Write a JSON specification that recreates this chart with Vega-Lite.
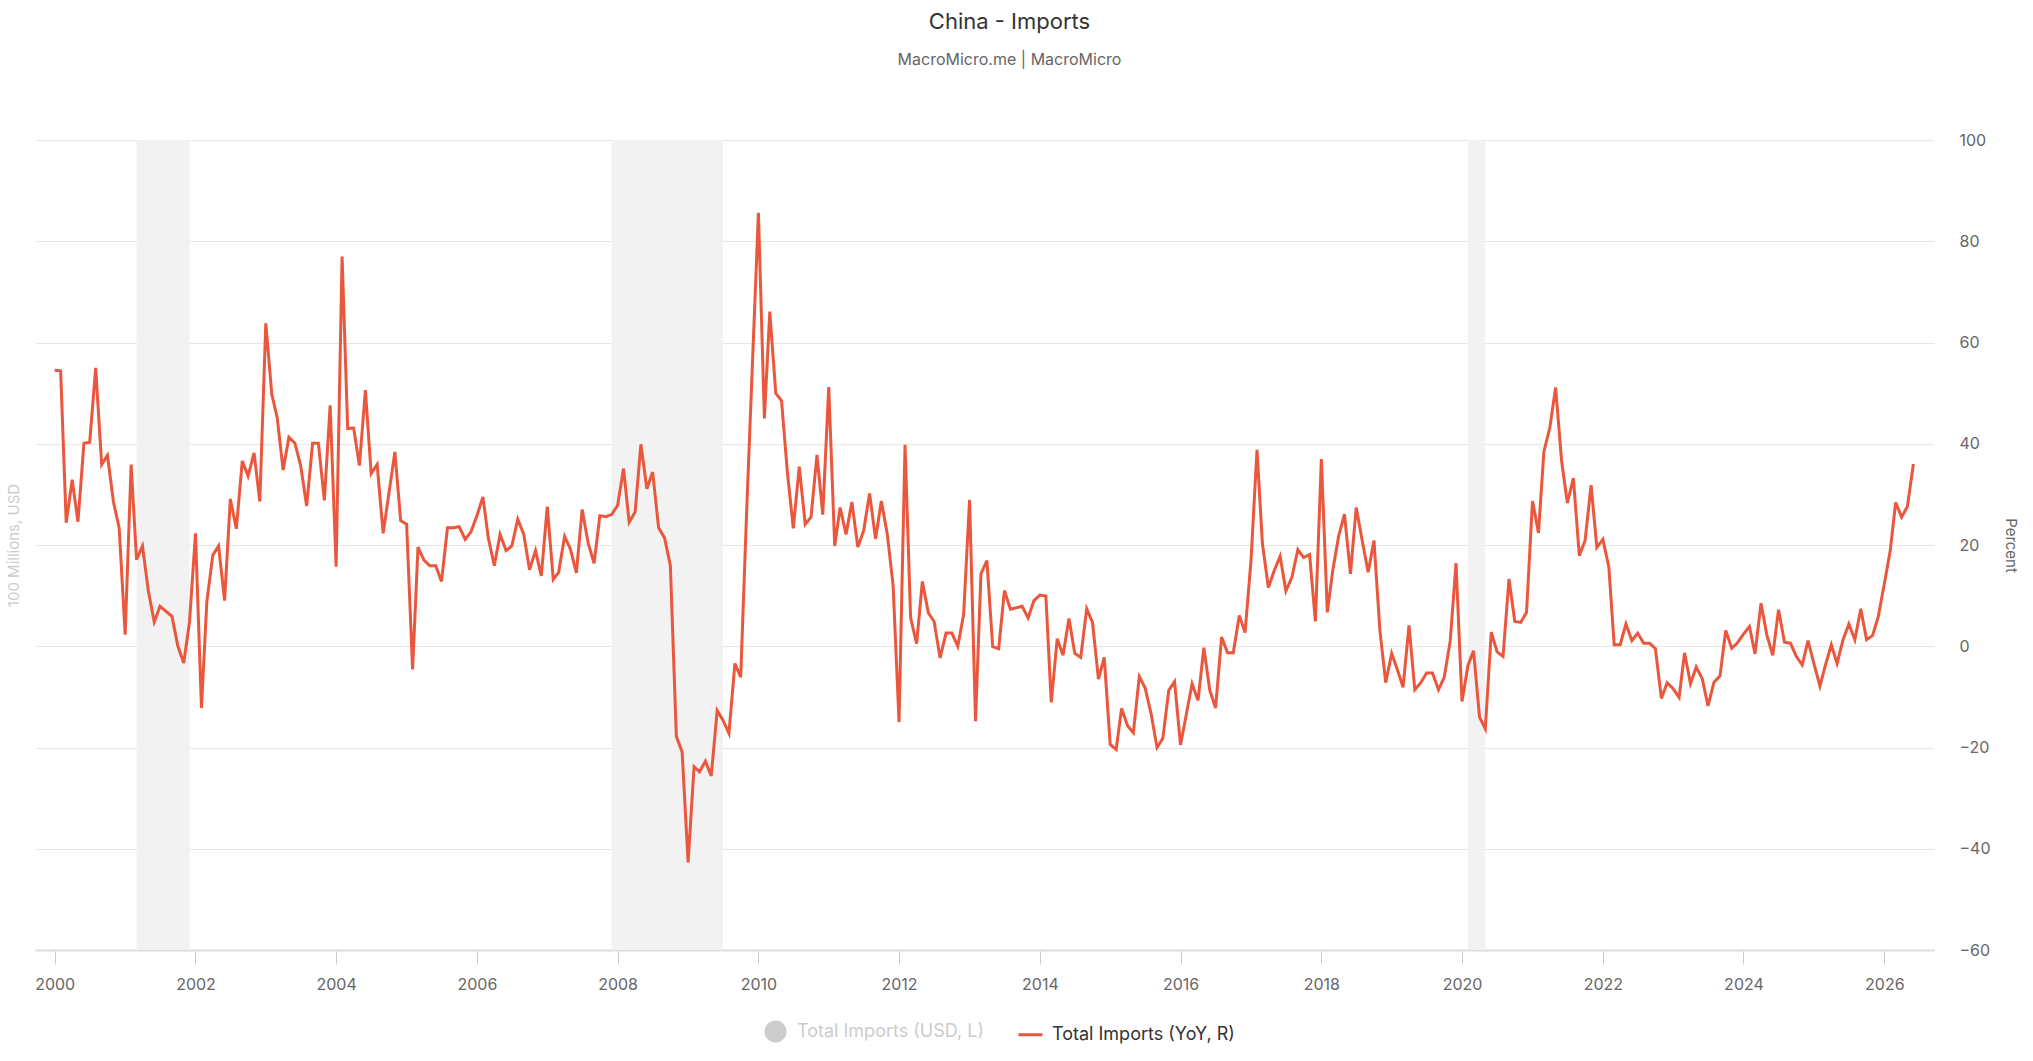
{
  "$schema": "https://vega.github.io/schema/vega-lite/v6.json",
  "width": 1899,
  "height": 810,
  "autosize": {"type": "none"},
  "padding": {"left": 35, "top": 140, "right": 99, "bottom": 111},
  "title": {
    "text": "China - Imports",
    "subtitle": "MacroMicro.me | MacroMicro",
    "fontSize": 22,
    "fontWeight": "normal",
    "color": "#333333",
    "subtitleFontSize": 16,
    "subtitleColor": "#666666",
    "anchor": "middle",
    "dx": 25,
    "offset": 63,
    "subtitlePadding": 18
  },
  "datasets": {
    "recessions": [
      {"start": "2001-03-01", "end": "2001-12-01"},
      {"start": "2007-12-01", "end": "2009-07-01"},
      {"start": "2020-02-01", "end": "2020-05-01"}
    ],
    "imports": [
      {"date": "2000-01-01", "yoy": 54.5}, {"date": "2000-02-01", "yoy": 54.4}, {"date": "2000-03-01", "yoy": 24.4}, {"date": "2000-04-01", "yoy": 32.9},
      {"date": "2000-05-01", "yoy": 24.6}, {"date": "2000-06-01", "yoy": 40.1}, {"date": "2000-07-01", "yoy": 40.3}, {"date": "2000-08-01", "yoy": 55.0},
      {"date": "2000-09-01", "yoy": 35.9}, {"date": "2000-10-01", "yoy": 37.7}, {"date": "2000-11-01", "yoy": 28.6}, {"date": "2000-12-01", "yoy": 23.3},
      {"date": "2001-01-01", "yoy": 2.3}, {"date": "2001-02-01", "yoy": 35.9}, {"date": "2001-03-01", "yoy": 17.1}, {"date": "2001-04-01", "yoy": 19.8},
      {"date": "2001-05-01", "yoy": 11.0}, {"date": "2001-06-01", "yoy": 4.8}, {"date": "2001-07-01", "yoy": 7.9}, {"date": "2001-08-01", "yoy": 6.9},
      {"date": "2001-09-01", "yoy": 5.9}, {"date": "2001-10-01", "yoy": 0.1}, {"date": "2001-11-01", "yoy": -3.3}, {"date": "2001-12-01", "yoy": 4.8},
      {"date": "2002-01-01", "yoy": 22.3}, {"date": "2002-02-01", "yoy": -12.2}, {"date": "2002-03-01", "yoy": 8.8}, {"date": "2002-04-01", "yoy": 18.0},
      {"date": "2002-05-01", "yoy": 19.8}, {"date": "2002-06-01", "yoy": 9.0}, {"date": "2002-07-01", "yoy": 29.1}, {"date": "2002-08-01", "yoy": 23.2},
      {"date": "2002-09-01", "yoy": 36.6}, {"date": "2002-10-01", "yoy": 33.6}, {"date": "2002-11-01", "yoy": 38.2}, {"date": "2002-12-01", "yoy": 28.6},
      {"date": "2003-01-01", "yoy": 63.8}, {"date": "2003-02-01", "yoy": 49.8}, {"date": "2003-03-01", "yoy": 45.2}, {"date": "2003-04-01", "yoy": 34.8},
      {"date": "2003-05-01", "yoy": 41.3}, {"date": "2003-06-01", "yoy": 40.1}, {"date": "2003-07-01", "yoy": 35.7}, {"date": "2003-08-01", "yoy": 27.7},
      {"date": "2003-09-01", "yoy": 40.1}, {"date": "2003-10-01", "yoy": 40.1}, {"date": "2003-11-01", "yoy": 28.8}, {"date": "2003-12-01", "yoy": 47.6},
      {"date": "2004-01-01", "yoy": 15.7}, {"date": "2004-02-01", "yoy": 77.0}, {"date": "2004-03-01", "yoy": 43.0}, {"date": "2004-04-01", "yoy": 43.1},
      {"date": "2004-05-01", "yoy": 35.7}, {"date": "2004-06-01", "yoy": 50.6}, {"date": "2004-07-01", "yoy": 34.1}, {"date": "2004-08-01", "yoy": 35.9},
      {"date": "2004-09-01", "yoy": 22.3}, {"date": "2004-10-01", "yoy": 30.2}, {"date": "2004-11-01", "yoy": 38.4}, {"date": "2004-12-01", "yoy": 24.8},
      {"date": "2005-01-01", "yoy": 24.1}, {"date": "2005-02-01", "yoy": -4.6}, {"date": "2005-03-01", "yoy": 19.6}, {"date": "2005-04-01", "yoy": 17.0},
      {"date": "2005-05-01", "yoy": 15.9}, {"date": "2005-06-01", "yoy": 15.9}, {"date": "2005-07-01", "yoy": 12.8}, {"date": "2005-08-01", "yoy": 23.4},
      {"date": "2005-09-01", "yoy": 23.4}, {"date": "2005-10-01", "yoy": 23.6}, {"date": "2005-11-01", "yoy": 21.1}, {"date": "2005-12-01", "yoy": 22.6},
      {"date": "2006-01-01", "yoy": 25.8}, {"date": "2006-02-01", "yoy": 29.5}, {"date": "2006-03-01", "yoy": 21.4}, {"date": "2006-04-01", "yoy": 15.9},
      {"date": "2006-05-01", "yoy": 22.1}, {"date": "2006-06-01", "yoy": 18.9}, {"date": "2006-07-01", "yoy": 19.8}, {"date": "2006-08-01", "yoy": 25.1},
      {"date": "2006-09-01", "yoy": 22.1}, {"date": "2006-10-01", "yoy": 15.1}, {"date": "2006-11-01", "yoy": 18.9}, {"date": "2006-12-01", "yoy": 13.9},
      {"date": "2007-01-01", "yoy": 27.6}, {"date": "2007-02-01", "yoy": 13.2}, {"date": "2007-03-01", "yoy": 14.6}, {"date": "2007-04-01", "yoy": 21.7},
      {"date": "2007-05-01", "yoy": 19.2}, {"date": "2007-06-01", "yoy": 14.5}, {"date": "2007-07-01", "yoy": 27.0}, {"date": "2007-08-01", "yoy": 20.4},
      {"date": "2007-09-01", "yoy": 16.4}, {"date": "2007-10-01", "yoy": 25.8}, {"date": "2007-11-01", "yoy": 25.6}, {"date": "2007-12-01", "yoy": 26.0},
      {"date": "2008-01-01", "yoy": 27.8}, {"date": "2008-02-01", "yoy": 35.1}, {"date": "2008-03-01", "yoy": 24.5}, {"date": "2008-04-01", "yoy": 26.5},
      {"date": "2008-05-01", "yoy": 39.9}, {"date": "2008-06-01", "yoy": 31.1}, {"date": "2008-07-01", "yoy": 34.4}, {"date": "2008-08-01", "yoy": 23.4},
      {"date": "2008-09-01", "yoy": 21.4}, {"date": "2008-10-01", "yoy": 15.9}, {"date": "2008-11-01", "yoy": -17.8}, {"date": "2008-12-01", "yoy": -20.9},
      {"date": "2009-01-01", "yoy": -42.7}, {"date": "2009-02-01", "yoy": -23.8}, {"date": "2009-03-01", "yoy": -24.8}, {"date": "2009-04-01", "yoy": -22.7},
      {"date": "2009-05-01", "yoy": -25.6}, {"date": "2009-06-01", "yoy": -12.7}, {"date": "2009-07-01", "yoy": -14.6}, {"date": "2009-08-01", "yoy": -17.2},
      {"date": "2009-09-01", "yoy": -3.4}, {"date": "2009-10-01", "yoy": -6.1}, {"date": "2009-11-01", "yoy": 26.7}, {"date": "2009-12-01", "yoy": 55.9},
      {"date": "2010-01-01", "yoy": 85.6}, {"date": "2010-02-01", "yoy": 45.0}, {"date": "2010-03-01", "yoy": 66.1}, {"date": "2010-04-01", "yoy": 50.0},
      {"date": "2010-05-01", "yoy": 48.5}, {"date": "2010-06-01", "yoy": 34.1}, {"date": "2010-07-01", "yoy": 23.3}, {"date": "2010-08-01", "yoy": 35.5},
      {"date": "2010-09-01", "yoy": 24.1}, {"date": "2010-10-01", "yoy": 25.5}, {"date": "2010-11-01", "yoy": 37.8}, {"date": "2010-12-01", "yoy": 26.0},
      {"date": "2011-01-01", "yoy": 51.2}, {"date": "2011-02-01", "yoy": 19.8}, {"date": "2011-03-01", "yoy": 27.4}, {"date": "2011-04-01", "yoy": 22.1},
      {"date": "2011-05-01", "yoy": 28.5}, {"date": "2011-06-01", "yoy": 19.6}, {"date": "2011-07-01", "yoy": 22.8}, {"date": "2011-08-01", "yoy": 30.2},
      {"date": "2011-09-01", "yoy": 21.2}, {"date": "2011-10-01", "yoy": 28.7}, {"date": "2011-11-01", "yoy": 22.1}, {"date": "2011-12-01", "yoy": 12.1},
      {"date": "2012-01-01", "yoy": -15.0}, {"date": "2012-02-01", "yoy": 39.8}, {"date": "2012-03-01", "yoy": 5.6}, {"date": "2012-04-01", "yoy": 0.5},
      {"date": "2012-05-01", "yoy": 12.8}, {"date": "2012-06-01", "yoy": 6.6}, {"date": "2012-07-01", "yoy": 4.9}, {"date": "2012-08-01", "yoy": -2.3},
      {"date": "2012-09-01", "yoy": 2.6}, {"date": "2012-10-01", "yoy": 2.6}, {"date": "2012-11-01", "yoy": 0.0}, {"date": "2012-12-01", "yoy": 6.2},
      {"date": "2013-01-01", "yoy": 28.9}, {"date": "2013-02-01", "yoy": -14.8}, {"date": "2013-03-01", "yoy": 14.3}, {"date": "2013-04-01", "yoy": 16.9},
      {"date": "2013-05-01", "yoy": -0.1}, {"date": "2013-06-01", "yoy": -0.5}, {"date": "2013-07-01", "yoy": 11.0}, {"date": "2013-08-01", "yoy": 7.3},
      {"date": "2013-09-01", "yoy": 7.6}, {"date": "2013-10-01", "yoy": 7.9}, {"date": "2013-11-01", "yoy": 5.6}, {"date": "2013-12-01", "yoy": 9.0},
      {"date": "2014-01-01", "yoy": 10.1}, {"date": "2014-02-01", "yoy": 9.9}, {"date": "2014-03-01", "yoy": -11.1}, {"date": "2014-04-01", "yoy": 1.5},
      {"date": "2014-05-01", "yoy": -1.8}, {"date": "2014-06-01", "yoy": 5.5}, {"date": "2014-07-01", "yoy": -1.4}, {"date": "2014-08-01", "yoy": -2.2},
      {"date": "2014-09-01", "yoy": 7.4}, {"date": "2014-10-01", "yoy": 4.7}, {"date": "2014-11-01", "yoy": -6.5}, {"date": "2014-12-01", "yoy": -2.2},
      {"date": "2015-01-01", "yoy": -19.4}, {"date": "2015-02-01", "yoy": -20.4}, {"date": "2015-03-01", "yoy": -12.3}, {"date": "2015-04-01", "yoy": -15.7},
      {"date": "2015-05-01", "yoy": -17.1}, {"date": "2015-06-01", "yoy": -6.0}, {"date": "2015-07-01", "yoy": -8.2}, {"date": "2015-08-01", "yoy": -13.3},
      {"date": "2015-09-01", "yoy": -20.0}, {"date": "2015-10-01", "yoy": -18.2}, {"date": "2015-11-01", "yoy": -8.7}, {"date": "2015-12-01", "yoy": -7.0},
      {"date": "2016-01-01", "yoy": -19.5}, {"date": "2016-02-01", "yoy": -13.3}, {"date": "2016-03-01", "yoy": -7.4}, {"date": "2016-04-01", "yoy": -10.7},
      {"date": "2016-05-01", "yoy": -0.3}, {"date": "2016-06-01", "yoy": -8.7}, {"date": "2016-07-01", "yoy": -12.2}, {"date": "2016-08-01", "yoy": 1.8},
      {"date": "2016-09-01", "yoy": -1.3}, {"date": "2016-10-01", "yoy": -1.3}, {"date": "2016-11-01", "yoy": 6.1}, {"date": "2016-12-01", "yoy": 2.7},
      {"date": "2017-01-01", "yoy": 17.0}, {"date": "2017-02-01", "yoy": 38.8}, {"date": "2017-03-01", "yoy": 20.3}, {"date": "2017-04-01", "yoy": 11.6},
      {"date": "2017-05-01", "yoy": 14.9}, {"date": "2017-06-01", "yoy": 17.8}, {"date": "2017-07-01", "yoy": 10.9}, {"date": "2017-08-01", "yoy": 13.6},
      {"date": "2017-09-01", "yoy": 19.1}, {"date": "2017-10-01", "yoy": 17.5}, {"date": "2017-11-01", "yoy": 18.1}, {"date": "2017-12-01", "yoy": 4.9},
      {"date": "2018-01-01", "yoy": 37.0}, {"date": "2018-02-01", "yoy": 6.7}, {"date": "2018-03-01", "yoy": 14.9}, {"date": "2018-04-01", "yoy": 21.8},
      {"date": "2018-05-01", "yoy": 26.1}, {"date": "2018-06-01", "yoy": 14.3}, {"date": "2018-07-01", "yoy": 27.4}, {"date": "2018-08-01", "yoy": 20.9},
      {"date": "2018-09-01", "yoy": 14.6}, {"date": "2018-10-01", "yoy": 20.9}, {"date": "2018-11-01", "yoy": 3.1}, {"date": "2018-12-01", "yoy": -7.2},
      {"date": "2019-01-01", "yoy": -1.4}, {"date": "2019-02-01", "yoy": -4.8}, {"date": "2019-03-01", "yoy": -8.1}, {"date": "2019-04-01", "yoy": 4.1},
      {"date": "2019-05-01", "yoy": -8.6}, {"date": "2019-06-01", "yoy": -7.2}, {"date": "2019-07-01", "yoy": -5.3}, {"date": "2019-08-01", "yoy": -5.3},
      {"date": "2019-09-01", "yoy": -8.6}, {"date": "2019-10-01", "yoy": -6.1}, {"date": "2019-11-01", "yoy": 1.1}, {"date": "2019-12-01", "yoy": 16.4},
      {"date": "2020-01-01", "yoy": -10.9}, {"date": "2020-02-01", "yoy": -3.8}, {"date": "2020-03-01", "yoy": -0.9}, {"date": "2020-04-01", "yoy": -14.0},
      {"date": "2020-05-01", "yoy": -16.3}, {"date": "2020-06-01", "yoy": 2.8}, {"date": "2020-07-01", "yoy": -1.1}, {"date": "2020-08-01", "yoy": -2.0},
      {"date": "2020-09-01", "yoy": 13.3}, {"date": "2020-10-01", "yoy": 4.9}, {"date": "2020-11-01", "yoy": 4.7}, {"date": "2020-12-01", "yoy": 6.7},
      {"date": "2021-01-01", "yoy": 28.7}, {"date": "2021-02-01", "yoy": 22.4}, {"date": "2021-03-01", "yoy": 38.4}, {"date": "2021-04-01", "yoy": 43.2},
      {"date": "2021-05-01", "yoy": 51.1}, {"date": "2021-06-01", "yoy": 36.6}, {"date": "2021-07-01", "yoy": 28.3}, {"date": "2021-08-01", "yoy": 33.2},
      {"date": "2021-09-01", "yoy": 17.9}, {"date": "2021-10-01", "yoy": 20.9}, {"date": "2021-11-01", "yoy": 31.8}, {"date": "2021-12-01", "yoy": 19.5},
      {"date": "2022-01-01", "yoy": 21.1}, {"date": "2022-02-01", "yoy": 15.7}, {"date": "2022-03-01", "yoy": 0.3}, {"date": "2022-04-01", "yoy": 0.3},
      {"date": "2022-05-01", "yoy": 4.4}, {"date": "2022-06-01", "yoy": 1.1}, {"date": "2022-07-01", "yoy": 2.6}, {"date": "2022-08-01", "yoy": 0.6},
      {"date": "2022-09-01", "yoy": 0.6}, {"date": "2022-10-01", "yoy": -0.5}, {"date": "2022-11-01", "yoy": -10.3}, {"date": "2022-12-01", "yoy": -7.2},
      {"date": "2023-01-01", "yoy": -8.4}, {"date": "2023-02-01", "yoy": -10.1}, {"date": "2023-03-01", "yoy": -1.3}, {"date": "2023-04-01", "yoy": -7.4},
      {"date": "2023-05-01", "yoy": -4.1}, {"date": "2023-06-01", "yoy": -6.4}, {"date": "2023-07-01", "yoy": -11.8}, {"date": "2023-08-01", "yoy": -7.1},
      {"date": "2023-09-01", "yoy": -5.9}, {"date": "2023-10-01", "yoy": 3.1}, {"date": "2023-11-01", "yoy": -0.4}, {"date": "2023-12-01", "yoy": 0.7},
      {"date": "2024-01-01", "yoy": 2.4}, {"date": "2024-02-01", "yoy": 3.9}, {"date": "2024-03-01", "yoy": -1.5}, {"date": "2024-04-01", "yoy": 8.5},
      {"date": "2024-05-01", "yoy": 2.3}, {"date": "2024-06-01", "yoy": -1.8}, {"date": "2024-07-01", "yoy": 7.2}, {"date": "2024-08-01", "yoy": 0.8},
      {"date": "2024-09-01", "yoy": 0.6}, {"date": "2024-10-01", "yoy": -2.0}, {"date": "2024-11-01", "yoy": -3.7}, {"date": "2024-12-01", "yoy": 1.1},
      {"date": "2025-01-01", "yoy": -3.5}, {"date": "2025-02-01", "yoy": -7.9}, {"date": "2025-03-01", "yoy": -3.8}, {"date": "2025-04-01", "yoy": 0.3},
      {"date": "2025-05-01", "yoy": -3.4}, {"date": "2025-06-01", "yoy": 1.3}, {"date": "2025-07-01", "yoy": 4.4}, {"date": "2025-08-01", "yoy": 1.3},
      {"date": "2025-09-01", "yoy": 7.4}, {"date": "2025-10-01", "yoy": 1.3}, {"date": "2025-11-01", "yoy": 2.1}, {"date": "2025-12-01", "yoy": 5.9},
      {"date": "2026-01-01", "yoy": 12.3}, {"date": "2026-02-01", "yoy": 18.9}, {"date": "2026-03-01", "yoy": 28.4}, {"date": "2026-04-01", "yoy": 25.5},
      {"date": "2026-05-01", "yoy": 27.6}, {"date": "2026-06-01", "yoy": 36.0}
    ]
  },
  "layer": [
    {
      "data": {"name": "recessions"},
      "mark": {"type": "rect", "color": "#f2f2f2"},
      "encoding": {
        "x": {"field": "start", "type": "temporal", "scale": {"type": "utc", "domain": ["1999-09-21", "2026-09-16"]}},
        "x2": {"field": "end"}
      }
    },
    {
      "data": {"name": "imports"},
      "mark": {"type": "line", "opacity": 0},
      "encoding": {
        "x": {"field": "date", "type": "temporal"},
        "y": {
          "field": "yoy",
          "type": "quantitative",
          "scale": {"domain": [-60, 100], "nice": false, "zero": false},
          "axis": {"orient": "left", "labels": false, "ticks": false, "domain": false, "grid": false, "title": "100 Millions, USD", "titleColor": "#cccccc", "titlePadding": 14}
        }
      }
    },
    {
      "data": {"name": "imports"},
      "mark": {"type": "line", "strokeWidth": 3, "interpolate": "linear"},
      "encoding": {
        "x": {
          "field": "date",
          "type": "temporal",
          "axis": {"format": "%Y", "tickCount": {"interval": "year", "step": 2}, "grid": false, "domainWidth": 2, "tickSize": 14, "labelPadding": 12, "title": null, "labelFlush": false}
        },
        "y": {
          "field": "yoy",
          "type": "quantitative",
          "axis": {"orient": "right", "values": [-60, -40, -20, 0, 20, 40, 60, 80, 100], "grid": true, "ticks": false, "domain": false, "labelAlign": "left", "labelPadding": 25, "title": "Percent", "titlePadding": 12}
        },
        "color": {
          "datum": "Total Imports (YoY, R)",
          "scale": {"domain": ["Total Imports (USD, L)", "Total Imports (YoY, R)"], "range": ["#cccccc", "#ea573d"]},
          "legend": {
            "orient": "none",
            "legendX": 727,
            "legendY": 878,
            "direction": "horizontal",
            "title": null,
            "labelFontSize": 18,
            "labelLimit": 0,
            "labelOffset": 8,
            "columnPadding": 28,
            "symbolStrokeWidth": 3,
            "encode": {
              "symbols": {
                "update": {
                  "shape": {"signal": "datum.value == 'Total Imports (USD, L)' ? 'circle' : 'stroke'"},
                  "size": {"signal": "datum.value == 'Total Imports (USD, L)' ? 361 : 576"},
                  "fill": {"signal": "datum.value == 'Total Imports (USD, L)' ? '#cccccc' : 'transparent'"},
                  "stroke": {"signal": "datum.value == 'Total Imports (USD, L)' ? '#cccccc' : '#ea573d'"},
                  "opacity": {"value": 1}
                }
              },
              "labels": {
                "update": {
                  "fill": {"signal": "datum.value == 'Total Imports (USD, L)' ? '#cccccc' : '#333333'"}
                }
              }
            }
          }
        }
      }
    }
  ],
  "resolve": {"axis": {"y": "independent"}},
  "config": {
    "font": "Inter",
    "view": {"stroke": null},
    "axis": {
      "labelFont": "Inter",
      "labelColor": "#666666",
      "labelFontSize": 16,
      "titleFont": "Inter",
      "titleFontWeight": "normal",
      "titleFontSize": 15,
      "titleColor": "#666666",
      "gridColor": "#e6e6e6",
      "domainColor": "#dddddd",
      "tickColor": "#cccccc"
    },
    "legend": {"labelFont": "Inter"}
  }
}
